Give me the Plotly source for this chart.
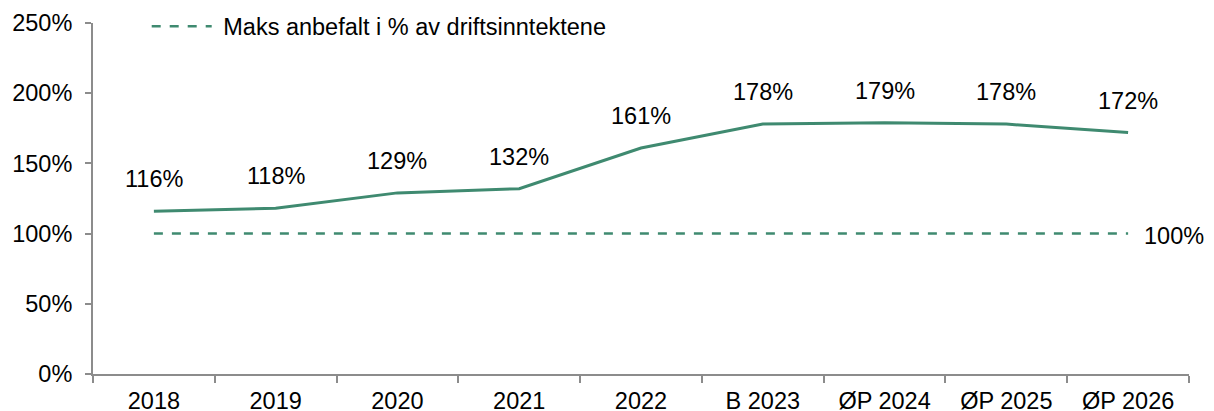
import plotly.graph_objects as go

categories = ["2018", "2019", "2020", "2021", "2022", "B 2023", "ØP 2024", "ØP 2025", "ØP 2026"]
values = [116, 118, 129, 132, 161, 178, 179, 178, 172]
max_recommended = [100] * len(categories)
legend_name = "Maks anbefalt i % av driftsinntektene"
y_ticks = [0, 50, 100, 150, 200, 250]
y_tick_labels = ["0%", "50%", "100%", "150%", "200%", "250%"]

green = "#3f8a70"
axis_grey = "#8c8c8c"
font_family = "Liberation Sans, Arial, sans-serif"
fs = 23.5

fig = go.Figure()
fig.add_trace(go.Scatter(
    x=categories, y=values, mode="lines", name="Gjeld",
    line=dict(color=green, width=3), showlegend=False, hoverinfo="skip",
))
fig.add_trace(go.Scatter(
    x=categories, y=max_recommended, mode="lines", name="\u00a0" + legend_name,
    line=dict(color=green, width=2.5, dash="dash"), showlegend=True,
))

annotations = []
for i, v in enumerate(values):
    annotations.append(dict(
        x=i, y=v, xref="x", yref="y", text=f"{v}%", showarrow=False, yshift=32,
        font=dict(size=fs, color="#000000", family=font_family),
    ))
annotations.append(dict(
    x=len(categories) - 1, y=max_recommended[-1], xref="x", yref="y",
    text=f"{max_recommended[-1]}%",
    showarrow=False, xanchor="left", xshift=14, yshift=-2,
    font=dict(size=fs, color="#000000", family=font_family),
))

# page body has an 8px margin, so the figure is sized to fit inside the window
fig.update_layout(
    width=1206, height=403,
    margin=dict(l=85, r=25, t=15, b=37, autoexpand=False),
    paper_bgcolor="white", plot_bgcolor="white",
    font=dict(family=font_family, size=fs, color="#000000"),
    showlegend=True,
    legend=dict(x=0.049, y=0.99, xanchor="left", yanchor="middle",
                bgcolor="rgba(0,0,0,0)", font=dict(size=fs),
                itemwidth=60),
    annotations=annotations,
    xaxis=dict(
        type="category", range=[-0.5, len(categories) - 0.5],
        showline=True, linecolor=axis_grey, linewidth=2,
        ticks="outside", tickson="boundaries", ticklen=7, tickcolor=axis_grey, tickwidth=2,
        showgrid=False, zeroline=False, fixedrange=True,
        tickfont=dict(size=fs), ticklabelstandoff=5,
    ),
    yaxis=dict(
        range=[0, 250], tickvals=y_ticks, ticktext=y_tick_labels,
        showline=True, linecolor=axis_grey, linewidth=2,
        ticks="outside", ticklen=6, tickcolor=axis_grey, tickwidth=2,
        showgrid=False, zeroline=False, fixedrange=True,
        tickfont=dict(size=fs), ticklabelstandoff=8,
    ),
)

fig.write_html("out.html")
